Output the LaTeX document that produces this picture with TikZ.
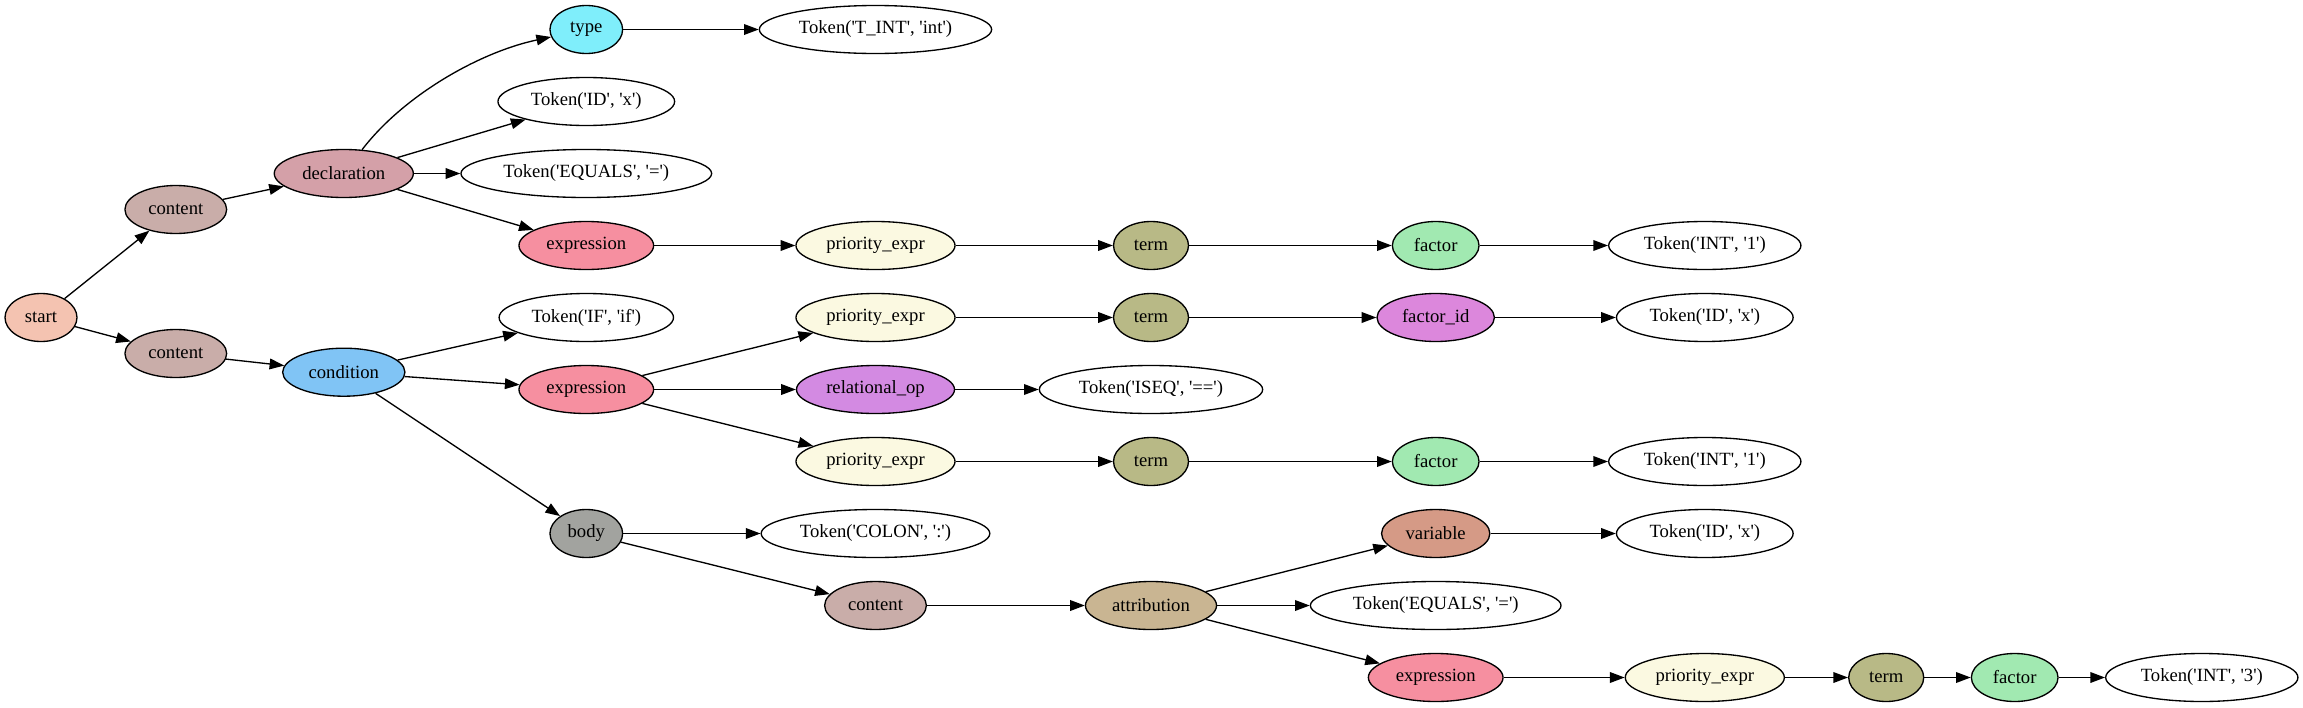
\documentclass[tikz,border=0pt]{standalone}
\usepackage{fontspec}
\setmainfont{Liberation Serif}[Ligatures=TeXOff]
\usetikzlibrary{shapes.geometric,arrows.meta}
\definecolor{cStart}{HTML}{F4C3B1}
\definecolor{cContent}{HTML}{C9ADA9}
\definecolor{cDecl}{HTML}{D4A0A8}
\definecolor{cType}{HTML}{7FEEFB}
\definecolor{cExpr}{HTML}{F68FA0}
\definecolor{cPrio}{HTML}{FBF9E1}
\definecolor{cTerm}{HTML}{B8B986}
\definecolor{cFactor}{HTML}{A1E9B1}
\definecolor{cCond}{HTML}{80C4F5}
\definecolor{cRelop}{HTML}{D38AE2}
\definecolor{cFactorId}{HTML}{DC87DC}
\definecolor{cBody}{HTML}{A2A39F}
\definecolor{cVar}{HTML}{D59A86}
\definecolor{cAttr}{HTML}{C9B592}
\tikzset{
  base/.style={ellipse, draw=black, line width=1pt, minimum height=36pt, inner sep=0pt,
    font=\fontsize{14pt}{16pt}\selectfont},
  startn/.style={base, fill=cStart, minimum width=54pt},
  contentn/.style={base, fill=cContent, minimum width=76.3pt},
  decln/.style={base, fill=cDecl, minimum width=104.3pt},
  condn/.style={base, fill=cCond, minimum width=91.7pt},
  typen/.style={base, fill=cType, minimum width=54.5pt},
  exprn/.style={base, fill=cExpr, minimum width=101pt},
  prion/.style={base, fill=cPrio, minimum width=119.3pt},
  relopn/.style={base, fill=cRelop, minimum width=118.5pt},
  termn/.style={base, fill=cTerm, minimum width=56.25pt},
  factorn/.style={base, fill=cFactor, minimum width=65pt},
  factoridn/.style={base, fill=cFactorId, minimum width=88pt},
  bodyn/.style={base, fill=cBody, minimum width=54.5pt},
  varn/.style={base, fill=cVar, minimum width=81.2pt},
  attrn/.style={base, fill=cAttr, minimum width=98.3pt},
  tok/.style={base, fill=white},
  edge/.style={-{Triangle[length=11pt,width=8pt]}, line width=1pt, draw=black}
}
\begin{document}
\begin{tikzpicture}[x=0.75pt,y=-0.75pt]
\useasboundingbox (0,0) rectangle (2303,707);
% rank 0
\node[startn] (start) at (41,317.5) {start};
% rank 1
\node[contentn] (c1) at (175.8,209.5) {content};
\node[contentn] (c2) at (175.8,353.5) {content};
% rank 2
\node[decln] (decl) at (343.8,173.5) {declaration};
\node[condn] (cond) at (343.8,372.2) {condition};
% rank 3
\node[typen] (type) at (586.3,29.5) {type};
\node[tok, minimum width=132.5pt] (tid1) at (586.3,101.5) {Token('ID', 'x')};
\node[tok, minimum width=188pt] (teq1) at (586.3,173.5) {Token('EQUALS', '=')};
\node[exprn] (expr1) at (586.3,245.5) {expression};
\node[tok, minimum width=130.8pt] (tif) at (586.3,317.5) {Token('IF', 'if')};
\node[exprn] (expr2) at (586.3,389.5) {expression};
\node[bodyn] (body) at (586.3,533.5) {body};
% rank 4
\node[tok, minimum width=174.2pt] (tint) at (875.5,29.5) {Token('T\_INT', 'int')};
\node[prion] (pe1) at (875.5,245.5) {priority\_expr};
\node[prion] (pe2) at (875.5,317.5) {priority\_expr};
\node[relopn] (relop) at (875.5,389.5) {relational\_op};
\node[prion] (pe3) at (875.5,461.5) {priority\_expr};
\node[tok, minimum width=171.5pt] (tcolon) at (875.5,533.5) {Token('COLON', ':')};
\node[contentn] (c3) at (875.5,605.5) {content};
% rank 5
\node[termn] (term1) at (1151,245.5) {term};
\node[termn] (term2) at (1151,317.5) {term};
\node[tok, minimum width=167.5pt] (tiseq) at (1151,389.5) {Token('ISEQ', '==')};
\node[termn] (term3) at (1151,461.5) {term};
\node[attrn] (attr) at (1151,605.5) {attribution};
% rank 6
\node[factorn] (f1) at (1435.7,245.5) {factor};
\node[factoridn] (fid) at (1435.7,317.5) {factor\_id};
\node[factorn] (f2) at (1435.7,461.5) {factor};
\node[varn] (var) at (1435.7,533.5) {variable};
\node[tok, minimum width=188pt] (teq2) at (1435.7,605.5) {Token('EQUALS', '=')};
\node[exprn] (expr3) at (1435.7,677.5) {expression};
% rank 7
\node[tok, minimum width=144.2pt] (tint1a) at (1704.8,245.5) {Token('INT', '1')};
\node[tok, minimum width=132.5pt] (tid2) at (1704.8,317.5) {Token('ID', 'x')};
\node[tok, minimum width=144.2pt] (tint1b) at (1704.8,461.5) {Token('INT', '1')};
\node[tok, minimum width=132.5pt] (tid3) at (1704.8,533.5) {Token('ID', 'x')};
\node[prion] (pe4) at (1704.8,677.5) {priority\_expr};
% rank 8-10
\node[termn] (term4) at (1886.2,677.5) {term};
\node[factorn] (f4) at (2014.7,677.5) {factor};
\node[tok, minimum width=144.2pt] (tint3) at (2201.8,677.5) {Token('INT', '3')};
% edges
\draw[edge] (start) -- (c1);
\draw[edge] (start) -- (c2);
\draw[edge] (c1) -- (decl);
\draw[edge] (decl) .. controls (404,95) and (480,52) .. (type);
\draw[edge] (decl) -- (tid1);
\draw[edge] (decl) -- (teq1);
\draw[edge] (decl) -- (expr1);
\draw[edge] (type) -- (tint);
\draw[edge] (expr1) -- (pe1);
\draw[edge] (pe1) -- (term1);
\draw[edge] (term1) -- (f1);
\draw[edge] (f1) -- (tint1a);
\draw[edge] (c2) -- (cond);
\draw[edge] (cond) -- (tif);
\draw[edge] (cond) -- (expr2);
\draw[edge] (cond) -- (body);
\draw[edge] (expr2) -- (pe2);
\draw[edge] (expr2) -- (relop);
\draw[edge] (expr2) -- (pe3);
\draw[edge] (pe2) -- (term2);
\draw[edge] (term2) -- (fid);
\draw[edge] (fid) -- (tid2);
\draw[edge] (relop) -- (tiseq);
\draw[edge] (pe3) -- (term3);
\draw[edge] (term3) -- (f2);
\draw[edge] (f2) -- (tint1b);
\draw[edge] (body) -- (tcolon);
\draw[edge] (body) -- (c3);
\draw[edge] (c3) -- (attr);
\draw[edge] (attr) -- (var);
\draw[edge] (attr) -- (teq2);
\draw[edge] (attr) -- (expr3);
\draw[edge] (var) -- (tid3);
\draw[edge] (expr3) -- (pe4);
\draw[edge] (pe4) -- (term4);
\draw[edge] (term4) -- (f4);
\draw[edge] (f4) -- (tint3);
\end{tikzpicture}
\end{document}
